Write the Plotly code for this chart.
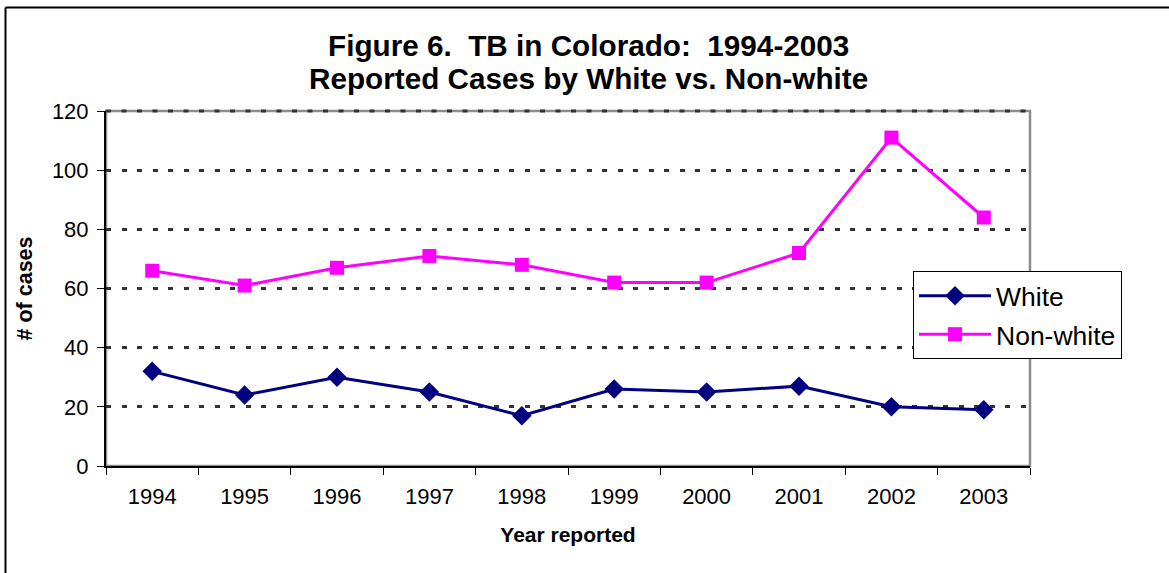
import plotly.graph_objects as go

years = ["1994", "1995", "1996", "1997", "1998", "1999", "2000", "2001", "2002", "2003"]
white = [32, 24, 30, 25, 17, 26, 25, 27, 20, 19]
non_white = [66, 61, 67, 71, 68, 62, 62, 72, 111, 84]
y_ticks = [0, 20, 40, 60, 80, 100, 120]

W, H = 1169, 573
L, R, T, B = 106, 1030, 111, 466

def px_x(p):
    return (p - L) / (R - L)

def px_y(p):
    return (B - p) / (B - T)

fig = go.Figure()
fig.add_trace(go.Scatter(
    x=years, y=white, name="White", mode="lines+markers", legendgroup="w",
    line=dict(color="#000080", width=3),
    marker=dict(symbol="diamond", size=15, color="#000080"),
))
fig.add_trace(go.Scatter(
    x=years, y=non_white, name="Non-white", mode="lines+markers", legendgroup="n",
    line=dict(color="#FF00FF", width=3),
    marker=dict(symbol="square", size=14, color="#FF00FF"),
))

font = "Liberation Sans, Arial, sans-serif"
grid_dash = "5px,10.5px"

fig.update_layout(
    width=W, height=H,
    margin=dict(l=L, r=W - R, t=T, b=H - B, pad=0),
    paper_bgcolor="white", plot_bgcolor="white",
    font=dict(family=font, color="black", size=22),
    showlegend=True,
    legend=dict(
        x=px_x(913), y=px_y(271), xanchor="left", yanchor="top",
        bgcolor="white", bordercolor="black", borderwidth=1,
        font=dict(size=26.5, family=font),
        itemwidth=72, tracegroupgap=1,
    ),
    xaxis=dict(
        type="category", range=[-0.5, 9.5], autorange=False,
        tickson="boundaries", ticks="outside", ticklen=7,
        tickcolor="black", tickwidth=1, ticklabelstandoff=10,
        showline=True, linecolor="black", linewidth=2,
        showgrid=False, zeroline=False,
        tickfont=dict(size=22, family=font),
        title=dict(text="<b>Year reported</b>", font=dict(size=21, family=font), standoff=19),
    ),
    yaxis=dict(
        range=[0, 120], tickvals=y_ticks, ticks="outside", ticklen=7,
        tickcolor="black", tickwidth=1, ticklabelstandoff=4,
        showline=True, linecolor="black", linewidth=2,
        showgrid=True, gridcolor="#333333", gridwidth=3, griddash=grid_dash,
        zeroline=False,
        tickfont=dict(size=22, family=font),
        title=dict(text="<b># of cases</b>", font=dict(size=21.5, family=font), standoff=13),
    ),
    shapes=[
        dict(type="rect", xref="paper", yref="paper", x0=0, x1=1, y0=0, y1=1,
             line=dict(color="#8c8c8c", width=2.5), layer="below"),
        dict(type="line", xref="paper", yref="paper", x0=0, x1=1, y0=1, y1=1,
             line=dict(color="#333333", width=3, dash=grid_dash), layer="above"),
        dict(type="line", xref="paper", yref="paper",
             x0=px_x(5.5), x1=px_x(1180), y0=px_y(7.5), y1=px_y(7.5),
             line=dict(color="black", width=2), layer="above"),
        dict(type="line", xref="paper", yref="paper",
             x0=px_x(5.5), x1=px_x(5.5), y0=px_y(590), y1=px_y(7.5),
             line=dict(color="black", width=2), layer="above"),
    ],
    annotations=[
        dict(text="<b>Figure 6.  TB in Colorado:  1994-2003</b>", xref="paper", yref="paper",
             x=px_x(588), y=px_y(45), xanchor="center", yanchor="middle",
             showarrow=False, font=dict(size=29.7, family=font)),
        dict(text="<b>Reported Cases by White vs. Non-white</b>", xref="paper", yref="paper",
             x=px_x(588), y=px_y(79), xanchor="center", yanchor="middle",
             showarrow=False, font=dict(size=29.7, family=font)),
    ],
)

fig.write_html(
    "out.html",
    config={"displayModeBar": False},
    post_script="document.body.style.margin='0';document.body.style.padding='0';",
)
